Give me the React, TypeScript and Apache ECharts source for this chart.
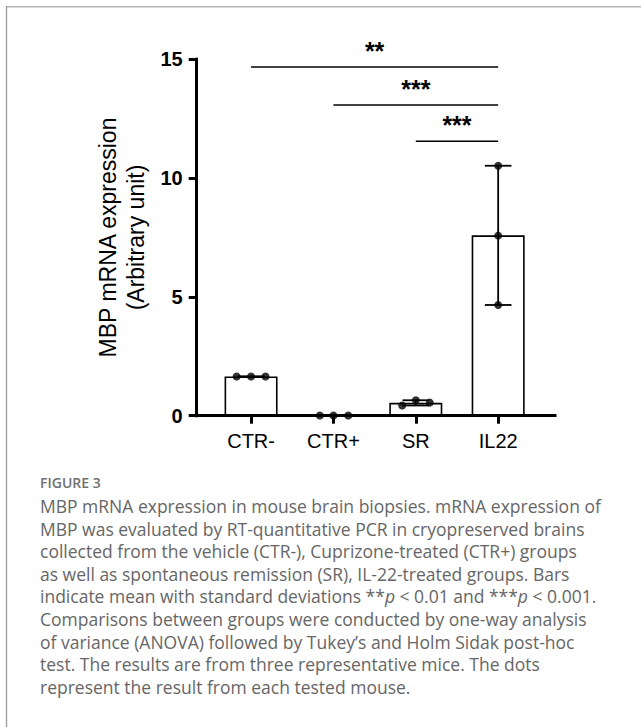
import React, { useEffect, useRef } from "react";
import * as echarts from "echarts";

// ---- data ----
const categories = ["CTR-", "CTR+", "SR", "IL22"];
const ctrMinusValues = [1.65, 1.65, 1.65];
const ctrPlusValues = [0.01, 0.01, 0.01];
const srValues = [0.43, 0.65, 0.55];
const il22Values = [10.52, 7.58, 4.66];
const groupMeans = [1.65, 0.01, 0.54, 7.59];
const groupSds = [0.0, 0.0, 0.11, 2.93];
const yTickMin = 0;
const yTickMax = 15;
const yTickStep = 5;
const sigPairs = [
  [0, 3],
  [1, 3],
  [2, 3],
];
const sigHeights = [14.68, 13.08, 11.55];
const sigLabels = ["**", "***", "***"];

const yAxisTitle = "MBP mRNA expression\n(Arbitrary unit)";
const figureLabel = "FIGURE 3";
const captionLines = [
  "MBP mRNA expression in mouse brain biopsies. mRNA expression of",
  "MBP was evaluated by RT-quantitative PCR in cryopreserved brains",
  "collected from the vehicle (CTR-), Cuprizone-treated (CTR+) groups",
  "as well as spontaneous remission (SR), IL-22-treated groups. Bars",
  "indicate mean with standard deviations **{i|p} < 0.01 and ***{i|p} < 0.001.",
  "Comparisons between groups were conducted by one-way analysis",
  "of variance (ANOVA) followed by Tukey\u2019s and Holm Sidak post-hoc",
  "test. The results are from three representative mice. The dots",
  "represent the result from each tested mouse.",
];

// ---- layout (not data) ----
const dotJitter = [
  [-0.175, 0, 0.175],
  [-0.165, 0, 0.18],
  [-0.165, 0, 0.17],
  [0, 0, 0],
];

const FONT = "Arial, 'Liberation Sans', Helvetica, sans-serif";
const CAP_FONT = "'Open Sans', 'Noto Sans', sans-serif";

export default function App() {
  const ref = useRef<HTMLDivElement>(null);

  useEffect(() => {
    if (!ref.current) return;
    const chart = echarts.init(ref.current, undefined, { renderer: "svg" });

    const groups = [ctrMinusValues, ctrPlusValues, srValues, il22Values];
    const dots: number[][] = [];
    groups.forEach((vals, g) => {
      vals.forEach((v, j) => dots.push([g + dotJitter[g][j], v]));
    });

    const capFill = "#666666";
    const capStart = 506;
    const capStep = 22.6;
    const capSize = 17.5;
    const captionGraphics: any[] = captionLines.map((line, i) => ({
      type: "text",
      x: 40,
      y: capStart + i * capStep,
      style: {
        text: line,
        fontFamily: CAP_FONT,
        fontSize: capSize,
        fill: capFill,
        textVerticalAlign: "middle",
        rich: {
          i: {
            fontFamily: CAP_FONT,
            fontSize: capSize,
            fontStyle: "italic",
            fill: capFill,
          },
        },
      },
    }));

    const option: any = {
      animation: false,
      backgroundColor: "#ffffff",
      grid: { left: 196.7, right: 86, top: 59.3, bottom: 311.3 },
      xAxis: {
        type: "value",
        min: -0.66,
        max: 3.69,
        splitLine: { show: false },
        axisLine: {
          show: true,
          onZero: false,
          lineStyle: { color: "#000", width: 3, cap: "square" },
        },
        axisTick: {
          show: true,
          customValues: [0, 1, 2, 3],
          length: 8,
          lineStyle: { color: "#000", width: 3 },
        },
        axisLabel: {
          customValues: [0, 1, 2, 3],
          formatter: (v: number) => categories[Math.round(v)] ?? "",
          fontFamily: FONT,
          fontSize: 20,
          color: "#000",
          margin: 15,
        },
      },
      yAxis: {
        type: "value",
        min: yTickMin,
        max: yTickMax,
        interval: yTickStep,
        name: yAxisTitle,
        nameLocation: "middle",
        nameRotate: 90,
        nameGap: 45,
        nameTextStyle: {
          fontFamily: FONT,
          fontSize: 23,
          lineHeight: 28,
          color: "#000",
        },
        splitLine: { show: false },
        axisLine: {
          show: true,
          onZero: false,
          lineStyle: { color: "#000", width: 3, cap: "square" },
        },
        axisTick: {
          show: true,
          length: 8,
          lineStyle: { color: "#000", width: 3 },
        },
        axisLabel: {
          fontFamily: FONT,
          fontSize: 20,
          fontWeight: "bold",
          color: "#000",
          margin: 14,
        },
      },
      series: [
        {
          type: "bar",
          data: groupMeans.map((m, i) => [i, m]),
          barWidth: 53,
          itemStyle: { color: "#fff", borderColor: "#000", borderWidth: 1.6 },
          z: 2,
        },
        {
          type: "custom",
          data: groupMeans.map((m, i) => [i, m - groupSds[i], m + groupSds[i]]),
          encode: { x: 0, y: [1, 2] },
          z: 3,
          renderItem: (params: any, api: any) => {
            const x = api.value(0);
            const lo = api.coord([x, api.value(1)]);
            const hi = api.coord([x, api.value(2)]);
            const hw = 13.3;
            const st = { stroke: "#000", lineWidth: 1.8 };
            return {
              type: "group",
              children: [
                { type: "line", shape: { x1: lo[0], y1: lo[1], x2: hi[0], y2: hi[1] }, style: st },
                { type: "line", shape: { x1: hi[0] - hw, y1: hi[1], x2: hi[0] + hw, y2: hi[1] }, style: st },
                { type: "line", shape: { x1: lo[0] - hw, y1: lo[1], x2: lo[0] + hw, y2: lo[1] }, style: st },
              ],
            };
          },
        },
        {
          type: "scatter",
          data: dots,
          symbol: "circle",
          symbolSize: 8,
          itemStyle: { color: "#000" },
          z: 5,
        },
        {
          type: "custom",
          data: sigPairs.map((p, i) => [p[0], p[1], sigHeights[i]]),
          encode: { x: [0, 1], y: 2 },
          z: 4,
          renderItem: (params: any, api: any) => {
            const a = api.coord([api.value(0), api.value(2)]);
            const b = api.coord([api.value(1), api.value(2)]);
            return {
              type: "group",
              children: [
                {
                  type: "line",
                  shape: { x1: a[0], y1: a[1], x2: b[0], y2: b[1] },
                  style: { stroke: "#000", lineWidth: 1.5 },
                },
                {
                  type: "text",
                  x: (a[0] + b[0]) / 2,
                  y: a[1] - 16,
                  style: {
                    text: sigLabels[params.dataIndex],
                    fontFamily: FONT,
                    fontWeight: "bold",
                    fontSize: 25,
                    fill: "#000",
                    textAlign: "center",
                    textVerticalAlign: "middle",
                  },
                },
              ],
            };
          },
        },
      ],
      graphic: [
        {
          type: "line",
          shape: { x1: 6, y1: 6.75, x2: 641, y2: 6.75 },
          style: { stroke: "#b5b5b5", lineWidth: 1.5 },
          silent: true,
        },
        {
          type: "line",
          shape: { x1: 6.5, y1: 6, x2: 6.5, y2: 727 },
          style: { stroke: "#9a9a9a", lineWidth: 1.3 },
          silent: true,
        },
        {
          type: "text",
          x: 40,
          y: 482,
          style: {
            text: figureLabel,
            fontFamily: "'Open Sans', sans-serif",
            fontSize: 14,
            fontWeight: 600,
            fill: "#707070",
            textVerticalAlign: "middle",
          },
        },
        ...captionGraphics,
      ],
    };

    chart.setOption(option);
    return () => chart.dispose();
  }, []);

  return (
    <div
      ref={ref}
      style={{
        position: "absolute",
        left: 0,
        top: 0,
        width: 641,
        height: 727,
        background: "#fff",
      }}
    />
  );
}
